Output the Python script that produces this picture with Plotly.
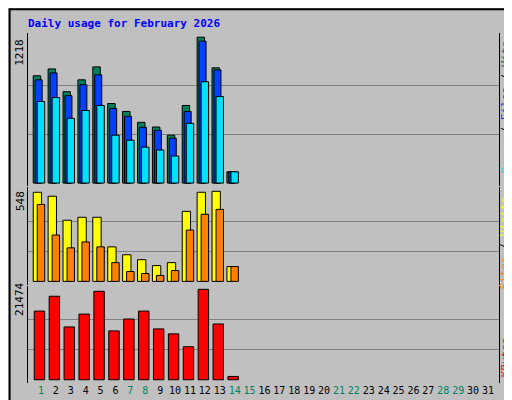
import plotly.graph_objects as go

days = list(range(1, 32))
hits = [896, 953, 763, 862, 970, 664, 598, 507, 468, 400, 648, 1218, 962, 94]
files = [862, 920, 730, 821, 904, 623, 557, 466, 441, 375, 598, 1185, 945, 94]
pages = [681, 714, 540, 606, 648, 400, 358, 300, 276, 226, 499, 846, 722, 94]
visits = [542, 518, 372, 390, 390, 210, 162, 132, 96, 114, 426, 542, 548, 90]
sites = [468, 282, 204, 240, 210, 114, 60, 48, 36, 66, 312, 408, 438, 90]
kbytes = [16302, 19828, 12540, 15596, 21004, 11599, 14421, 16302, 12069, 10894, 7837, 21474, 13245, 784]
weekend = [1, 7, 8, 14, 15, 21, 22, 28, 29]
title = "Daily usage for February 2026"

n = len(hits)
x = days[:n]
fig = go.Figure()
def bar(y, color, off, w, ax):
    fig.add_trace(go.Bar(x=x, y=y, marker=dict(color=color, line=dict(color="black", width=1)),
                         offset=off, width=w, yaxis=ax, xaxis="x", hoverinfo="skip"))
bar(hits, "#00805c", -0.52, 0.5, "y")
bar(files, "#0040ff", -0.39, 0.47, "y")
bar(pages, "#00e0ff", -0.25, 0.5, "y")
bar(visits, "#ffff00", -0.52, 0.56, "y2")
bar(sites, "#ff8000", -0.25, 0.5, "y2")
bar(kbytes, "#ff0000", -0.45, 0.7, "y3")

ticktext = [f"<span style='color:#00805c'>{d}</span>" if d in weekend else str(d) for d in days]
font = dict(family="DejaVu Sans Mono", size=11, color="black")
def yax(dom, mx, lo, hi):
    return dict(domain=dom, range=[lo, hi], tickvals=[mx/3, 2*mx/3], showticklabels=False,
                showgrid=True, gridcolor="#808080", gridwidth=1, zeroline=False,
                showline=True, linecolor="black", mirror=True, ticks="", fixedrange=True)
fig.update_layout(
    width=512, height=400, margin=dict(l=20, r=21, t=25, b=21),
    paper_bgcolor="#c0c0c0", plot_bgcolor="#c0c0c0", showlegend=False,
    barmode="overlay", font=font,
    xaxis=dict(range=[0.13, 31.74], tickvals=days, ticktext=ticktext, ticks="", tickangle=0,
               showgrid=False, zeroline=False, anchor="y3",
               tickfont=dict(family="DejaVu Sans Mono", size=10, color="black")),
    yaxis=yax([0.562, 1], 1218, -27, 1253),
    yaxis2=yax([0.28, 0.559], 548, -22, 572),
    yaxis3=yax([0, 0.277], 21474, -775, 22250),
    shapes=[
        dict(type="rect", xref="paper", yref="paper", x0=-0.039, x1=1.041, y0=-0.056, y1=1.068,
             line=dict(color="black", width=2), layer="below"),
    ],
)
ann = [
    dict(x=18, y=385, text=f"<b>{title}</b>", xanchor="left", font=dict(family="DejaVu Sans Mono", size=11, color="#0000ff")),
    dict(x=12, y=355, text="1218", textangle=-90),
    dict(x=12, y=205, text="548", textangle=-90),
    dict(x=12, y=105, text="21474", textangle=-90),
    dict(x=497, y=300, text="<span style='color:#00e0ff'>Pages</span> / <span style='color:#0040ff'>Files</span> / <span style='color:#00805c'>Hits</span>", textangle=-90),
    dict(x=497, y=162, text="<span style='color:#ff8000'>Sites</span> / <span style='color:#ffff00'>Visits</span>", textangle=-90),
    dict(x=497, y=47, text="<span style='color:#ff0000'>KBytes</span>", textangle=-90),
]
for a in ann:
    px, py = a.pop("x"), a.pop("y")
    a.setdefault("font", font)
    fig.add_annotation(xref="paper", yref="paper", x=(px-20)/471, y=(py-21)/354,
                       showarrow=False, yanchor="middle", **({"xanchor": "center"} | a))
fig.write_html("out.html")
